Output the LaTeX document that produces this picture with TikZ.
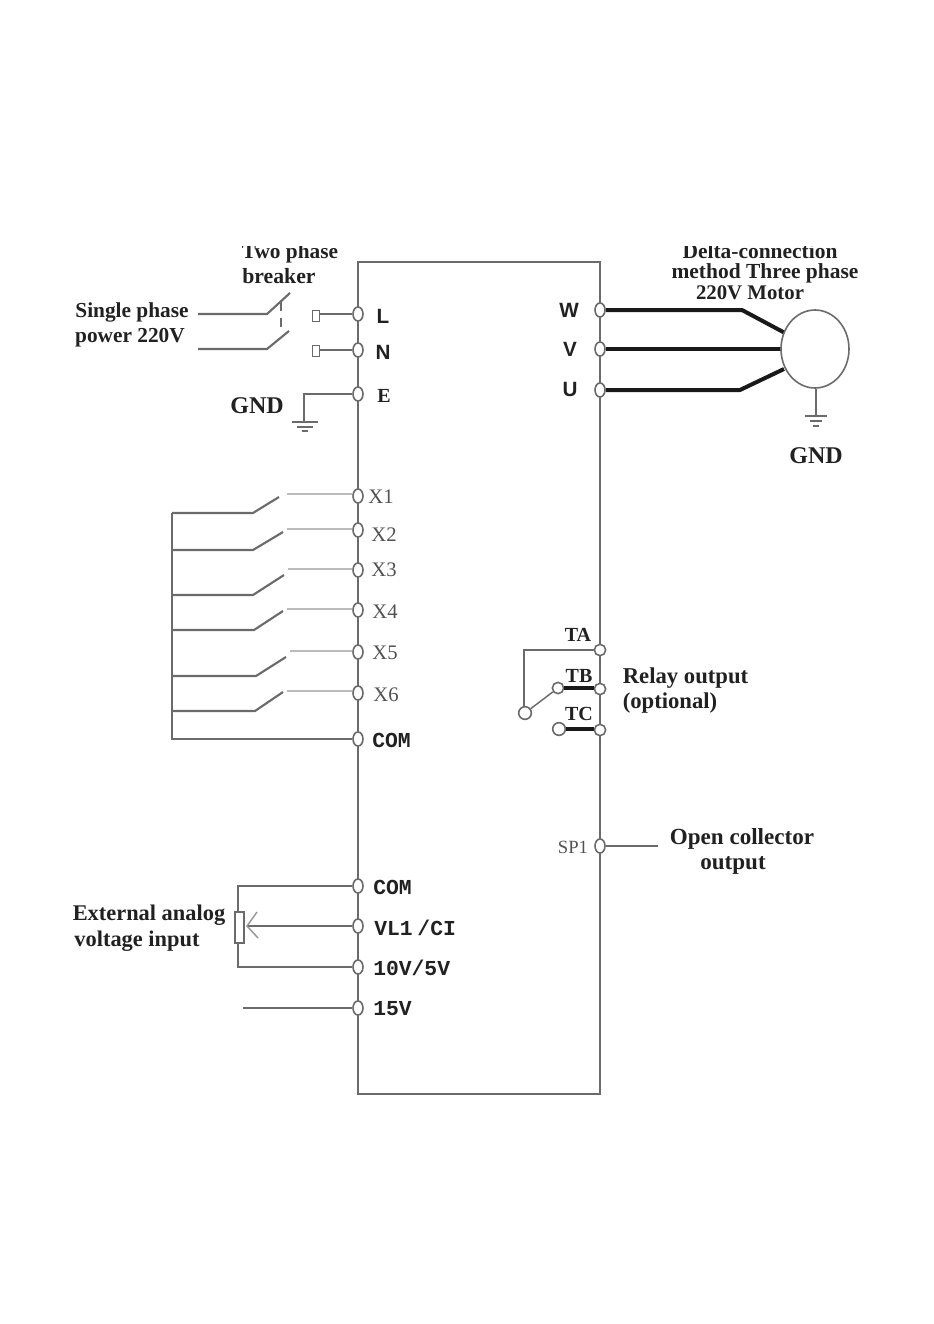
\documentclass[tikz,border=0pt]{standalone}
\usepackage{fontspec}
\setmainfont{Liberation Serif}
\setsansfont{Liberation Sans}
\setmonofont{Liberation Mono}
\usetikzlibrary{shapes.geometric}
\definecolor{wire}{gray}{0.42}
\definecolor{ink}{gray}{0.13}
\definecolor{soft}{gray}{0.32}
\tikzset{
  x=0.75pt,y=-0.75pt,
  wireline/.style={draw=wire,line width=1.6pt},
  thinwire/.style={draw=wire,line width=1.1pt},
  heavy/.style={draw=black!90,line width=3pt},
  term/.style={ellipse,draw=wire,line width=1.2pt,fill=white,minimum width=7.5pt,minimum height=10.5pt,inner sep=0pt},
  rterm/.style={circle,draw=wire,line width=1.2pt,fill=white,minimum size=8.5pt,inner sep=0pt},
  bigterm/.style={circle,draw=wire,line width=1.2pt,fill=white,minimum size=9.5pt,inner sep=0pt},
  note/.style={inner sep=0pt,text=ink,anchor=base,font=\rmfamily\bfseries\fontsize{#1}{#1}\selectfont},
  pinb/.style={inner sep=0pt,text=ink,font=\sffamily\bfseries\fontsize{15.5}{15.5}\selectfont},
  pinr/.style={inner sep=0pt,text=soft,font=\rmfamily\fontsize{15.5}{15.5}\selectfont},
  pinm/.style={inner sep=0pt,text=ink,anchor=west,font=\ttfamily\bfseries\fontsize{16}{16}\selectfont},
  pins/.style={inner sep=0pt,text=ink,font=\rmfamily\bfseries\fontsize{15}{15}\selectfont},
  plug/.style={draw=wire,line width=1.2pt,fill=white,minimum width=5.5pt,minimum height=8.5pt,inner sep=0pt},
}
\begin{document}
\begin{tikzpicture}
\useasboundingbox (0,0) rectangle (933,1324);
\node[draw=wire,line width=1.3pt,minimum width=181.5pt,minimum height=624pt,inner sep=0pt] (box) at (479,678) {};
% left terminals
\foreach \n/\y in {L/314,N/350,E/394,XA/496,XB/530,XC/570,XD/610,XE/652,XF/693,COMA/739,COMB/886,VL/926,TEN/967,FIF/1008}
  \node[term] (\n) at (358,\y) {};
\foreach \n/\y in {W/310,V/349,U/390,SP/846}
  \node[term] (\n) at (600,\y) {};
\foreach \n/\y in {TA/650,TB/689,TC/730}
  \node[rterm] (\n) at (600,\y) {};
% breaker
\coordinate (brA) at (198,314); \coordinate (brB) at (267,314); \coordinate (brC) at (290,293);
\coordinate (brD) at (198,349); \coordinate (brE) at (267,349); \coordinate (brF) at (289,331);
\draw[wireline] (brA) -- (brB) -- (brC);
\draw[wireline] (brD) -- (brE) -- (brF);
\coordinate (dashA) at (281,302); \coordinate (dashB) at (281,328);
\draw[wire,line width=1.2pt,dash pattern=on 7pt off 5pt] (dashA) -- (dashB);
\node[plug] (plugL) at (316,316) {};
\node[plug] (plugN) at (316,351) {};
\draw[wireline] (plugL.east |- L) -- (L);
\draw[wireline] (plugN.east |- N) -- (N);
% earth at E
\coordinate (gndA) at (304,394); \coordinate (gndB) at (304,422);
\draw[thinwire] (E) -- (gndA) -- (gndB);
\coordinate (ga1) at (292,422); \coordinate (ga2) at (318,422);
\coordinate (ga3) at (297,427); \coordinate (ga4) at (313,427);
\coordinate (ga5) at (302,431); \coordinate (ga6) at (308,431);
\draw[thinwire] (ga1) -- (ga2) (ga3) -- (ga4) (ga5) -- (ga6);
% digital inputs
\coordinate (bus) at (172,513);
\draw[wireline] (bus) -- (172,739) -- (COMA);
\foreach \yb/\xk/\xe/\ye/\xc/\yc/\t in {513/253/279/497/287/494/XA,550/253/283/532/287/529/XB,595/253/284/575/288/569/XC,630/254/283/611/287/609/XD,676/256/286/657/290/651/XE,711/255/283/692/287/691/XF}{
  \draw[wireline] (172,\yb) -- (\xk,\yb) -- (\xe,\ye);
  \draw[draw=wire!70,line width=1.1pt] (\xc,\yc) -- (\t.west |- 0,\yc) -- (\t);
}
% analog
\node[draw=wire,line width=1.1pt,fill=white,minimum width=6.8pt,minimum height=23pt,inner sep=0pt] (pot) at (239.5,927.5) {};
\coordinate (potA) at (238,886); \coordinate (potB) at (238,967);
\draw[wireline] (COMB) -- (potA) -- (pot.north -| potA);
\draw[wireline] (TEN) -- (potB) -- (pot.south -| potA);
\coordinate (tip) at (247,926); \coordinate (tipA) at (257,912); \coordinate (tipB) at (258,938);
\draw[wireline] (VL) -- (tip);
\draw[draw=wire!70,line width=1.1pt] (tipA) -- (tip) -- (tipB);
\coordinate (fifEnd) at (243,1008);
\draw[wireline] (fifEnd) -- (FIF);
% motor
\coordinate (wk) at (742,310); \coordinate (uk) at (740,390);
\coordinate (wEnd) at (785,333); \coordinate (uEnd) at (784,369); \coordinate (vEnd) at (782,349);
\draw[heavy] (W) -- (wk) -- (wEnd);
\draw[heavy] (V) -- (vEnd);
\draw[heavy] (U) -- (uk) -- (uEnd);
\node[ellipse,draw=wire,line width=1.2pt,fill=white,minimum width=51pt,minimum height=58.5pt,inner sep=0pt] (motor) at (815,349) {};
\coordinate (mg) at (816,416);
\draw[thinwire] (motor.south -| mg) -- (mg);
\coordinate (mg1) at (805,416); \coordinate (mg2) at (827,416);
\coordinate (mg3) at (810,421); \coordinate (mg4) at (822,421);
\coordinate (mg5) at (813,426); \coordinate (mg6) at (819,426);
\draw[thinwire] (mg1) -- (mg2) (mg3) -- (mg4) (mg5) -- (mg6);
% relay
\node[bigterm] (rc) at (525,713) {};
\node[rterm] (rb) at (558,688) {};
\node[bigterm] (rd) at (559,729) {};
\coordinate (taCorner) at (524,650);
\draw[thinwire] (TA) -- (taCorner) -- (rc.north -| taCorner);
\draw[thinwire] (rc) -- (rb);
\draw[heavy] (rb.east) -- (rb.east -| TB.west);
\draw[heavy] (rd.east) -- (rd.east -| TC.west);
% output
\coordinate (spEnd) at (658,846);
\draw[thinwire] (SP) -- (spEnd);
% labels
\begin{scope}
\clip (200,246) rectangle (380,300);
\node[note=16] (tTwo) at (290,258) {Two phase};
\end{scope}
\node[note=16.3] (tBrk) at (279,283) {breaker};
\node[note=16] (tSing) at (132,317) {Single phase};
\node[note=16] (tPow) at (130,342) {power 220V};
\node[note=18] (tGnd) at (257,413) {GND};
\begin{scope}
\clip (650,246) rectangle (880,300);
\node[note=16.1] (tDel) at (760,258) {Delta-connection};
\end{scope}
\node[note=16.1] (tMet) at (765,278) {method Three phase};
\node[note=15.6] (tMot) at (750,299) {220V Motor};
\node[note=18] (tGnd2) at (816,463) {GND};
\node[note=17] (tRel) at (685.5,683) {Relay output};
\node[note=17] (tOpt) at (670,708) {(optional)};
\node[note=17.3] (tOpen) at (742,844) {Open collector};
\node[note=17.3] (tOut) at (733,869) {output};
\node[note=16.8] (tExt) at (149,920) {External analog};
\node[note=16.8] (tVol) at (137,946) {voltage input};
\node[pinb] (lL) at (383,316) {L};
\node[pinb] (lN) at (383,352) {N};
\node[pins] (lE) at (384,396) {E};
\node[pinb] (lW) at (569,310) {W};
\node[pinb] (lV) at (570,349) {V};
\node[pinb] (lU) at (570,389) {U};
\node[pinr] (lX1) at (381,497) {X1};
\node[pinr] (lX2) at (384,535) {X2};
\node[pinr] (lX3) at (384,570) {X3};
\node[pinr] (lX4) at (385,612) {X4};
\node[pinr] (lX5) at (385,653) {X5};
\node[pinr] (lX6) at (386,695) {X6};
\node[pinm] (lC1) at (372,740) {COM};
\node[pinm] (lC2) at (373,887) {COM};
\node[pinm] (lVL) at (374,928) {VL1\kern-6pt{} /CI};
\node[pinm] (lT) at (373,968) {10V/5V};
\node[pinm] (lF) at (373,1009) {15V};
\node[pins] (lTA) at (578,635) {TA};
\node[pins] (lTB) at (579,676) {TB};
\node[pins] (lTC) at (579,714) {TC};
\node[pinr,font=\rmfamily\fontsize{14}{14}\selectfont] (lSP) at (573,847) {SP1};
\end{tikzpicture}
\end{document}
